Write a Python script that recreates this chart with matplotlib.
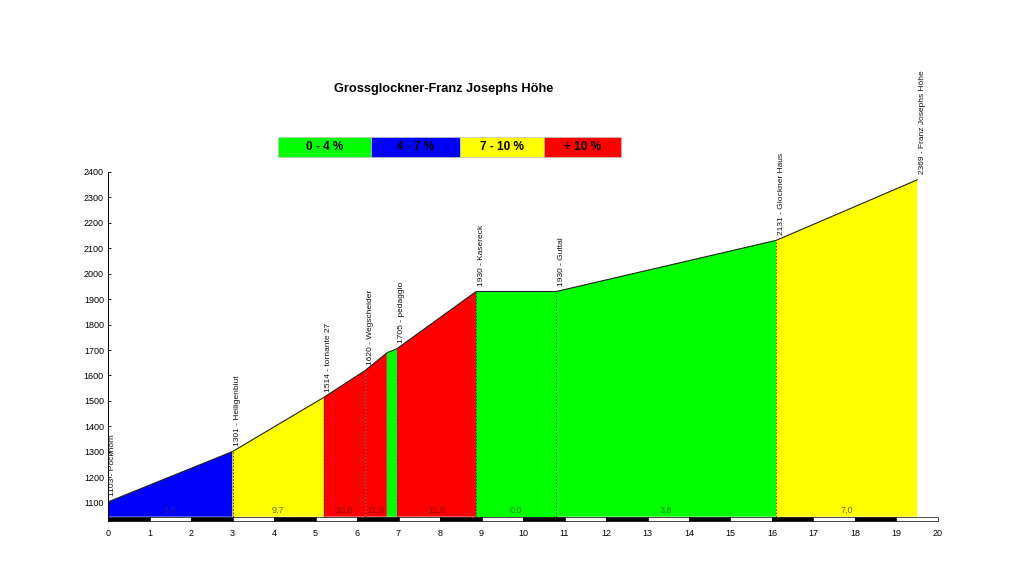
import matplotlib
matplotlib.use("Agg")
import matplotlib.pyplot as plt
from matplotlib.patches import Rectangle

plt.rcParams["font.family"] = ["Liberation Sans", "DejaVu Sans"]

# profile points (km, m)
km = [0.0, 3.0, 5.2, 6.2, 6.72, 6.96, 8.87, 10.8, 16.1, 19.5]
elev = [1103, 1301, 1514, 1620, 1689, 1705, 1930, 1930, 2131, 2369]
# segment colour class and gradient text
seg_class = ["4-7", "7-10", "+10", "+10", "0-4", "+10", "0-4", "0-4", "7-10"]
seg_grad = ["5,8", "9,7", "10,6", "11,6", "", "11,6", "0,0", "3,8", "7,0"]
# named points
wp_km = [0.0, 3.0, 5.2, 6.2, 6.96, 8.87, 10.8, 16.1, 19.5]
wp_names = ["1103 - Pockhorn", "1301 - Heiligenblut", "1514 - tornante 27",
            "1620 - Wegscheider", "1705 - pedaggio", "1930 - Kasereck",
            "1930 - Guttal", "2131 - Glockner Haus", "2369 - Franz Josephs Höhe"]

classes = ["0-4", "4-7", "7-10", "+10"]
class_labels = ["0 - 4 %", "4 - 7 %", "7 - 10 %", "+ 10 %"]
COL = {"0-4": "#00FF00", "4-7": "#0000FF", "7-10": "#FFFF00", "+10": "#FF0000"}
TXT = {"0-4": "#178a17", "4-7": "#22229a", "7-10": "#6a6a08", "+10": "#8a1010"}

YBOT, BASE = 1028, 1045

fig = plt.figure(figsize=(10.24, 5.76), dpi=100)
ax = fig.add_axes([0.1055, 0.0955, 0.8105, 0.606])

for i in range(len(km) - 1):
    x0, x1 = km[i], km[i + 1]
    c = seg_class[i]
    ax.fill([x0, x1, x1, x0], [BASE, BASE, elev[i + 1], elev[i]],
            color=COL[c], lw=0, zorder=1)
    if seg_grad[i]:
        ax.text((x0 + x1) / 2, 1069, seg_grad[i], ha="center", va="center",
                fontsize=6.5, color=TXT[c], zorder=3)

ax.plot(km, elev, color="#202020", lw=0.8, zorder=2)

for x, name in zip(wp_km, wp_names):
    y = elev[km.index(x)]
    if 0 < x < km[-1]:
        ax.plot([x, x], [BASE, y], color="#303030", lw=0.6, ls=(0, (2, 2)), zorder=2)
    ax.annotate(name, (x, y), xytext=(1, 4), textcoords="offset points",
                rotation=90, ha="left", va="bottom", fontsize=6, color="#111111")

# km bar
for k in range(20):
    fc = "black" if k % 2 == 0 else "white"
    ax.add_patch(Rectangle((k, YBOT), 1, BASE - YBOT, facecolor=fc,
                           edgecolor="black", lw=0.5, zorder=3, clip_on=False))

ax.set_xlim(0, 20)
ax.set_ylim(YBOT, 2400)
ax.set_xticks(range(0, 21))
ax.set_yticks(range(1100, 2401, 100))
ax.tick_params(axis="x", length=0, labelsize=6.5, pad=6)
ax.tick_params(axis="y", direction="in", length=2, width=0.6, labelsize=6.5, pad=3)
for s in ["top", "right", "bottom"]:
    ax.spines[s].set_visible(False)
ax.spines["left"].set_linewidth(0.7)

fig.text(0.433, 0.845, "Grossglockner-Franz Josephs Höhe", ha="center",
         va="center", fontsize=9.2, fontweight="bold")

# legend boxes
edges = [278, 371, 460, 544, 621]
for i, c in enumerate(classes):
    x0 = edges[i] / 1024
    w = (edges[i + 1] - edges[i]) / 1024
    fig.patches.append(Rectangle((x0, 1 - 157 / 576), w, 20 / 576,
                                 transform=fig.transFigure, facecolor=COL[c],
                                 edgecolor="#c0c0c0", lw=0.5))
    fig.text(x0 + w / 2, 1 - 147 / 576, class_labels[i], ha="center",
             va="center", fontsize=8.5, fontweight="bold", color="black")

fig.savefig("out.png", dpi=100, facecolor="white")
